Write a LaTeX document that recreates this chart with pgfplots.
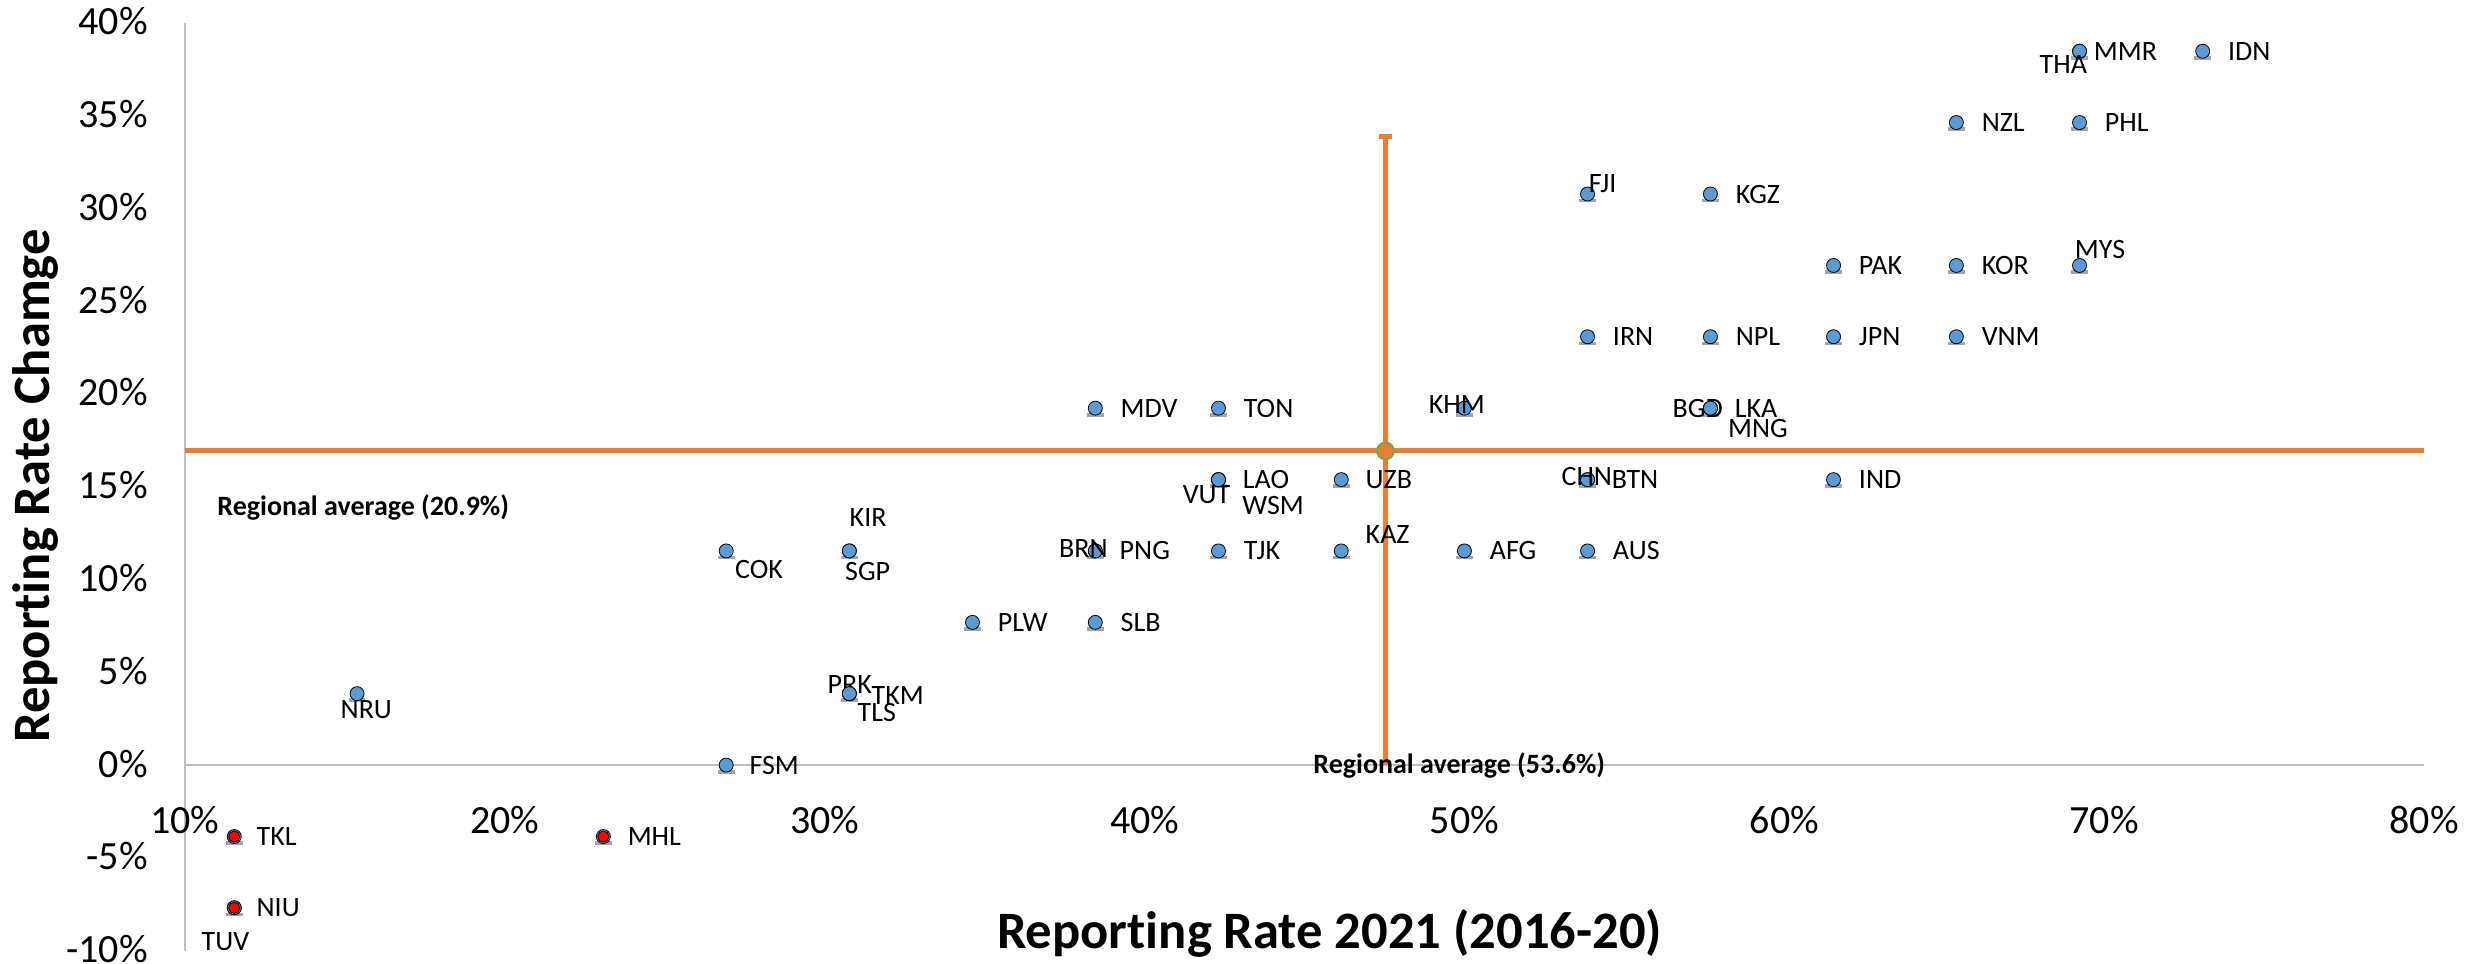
\documentclass[border=0pt]{standalone}
\usepackage{fontspec}
\setmainfont{Carlito}[Ligatures=NoCommon]
\usepackage{pgfplots}
\usepackage{pgfplotstable}
\pgfplotsset{compat=1.18}
\definecolor{xlblue}{HTML}{5B9BD5}
\definecolor{xlorange}{HTML}{ED7D31}
\definecolor{xlgreen}{HTML}{70AD47}
\definecolor{xlgray}{HTML}{A5A5A5}
\definecolor{axgray}{HTML}{BFBFBF}
\definecolor{xlred}{HTML}{FF0000}

\pgfplotstableread{
x y dx dy label
69.23 38.46 7 0 MMR
69.23 38.46 -20.1 -6.7 THA
73.08 38.46 12.5 0 IDN
65.38 34.62 12.5 0 NZL
69.23 34.62 12.5 0 PHL
53.85 30.77 0.5 5.2 FJI
57.69 30.77 12.5 0 KGZ
61.54 26.92 12.5 0 PAK
65.38 26.92 12.5 0 KOR
69.23 26.92 -2.5 8.2 MYS
53.85 23.08 12.5 0 IRN
57.69 23.08 12.5 0 NPL
61.54 23.08 12.5 0 JPN
65.38 23.08 12.5 0 VNM
38.46 19.23 12.5 0 MDV
42.31 19.23 12.5 0 TON
50.00 19.23 -18 2 KHM
57.69 19.23 -19.1 0 BGD
57.69 19.23 12 0 LKA
57.69 19.23 8.7 -10 MNG
42.31 15.38 12 0 LAO
42.31 15.38 -18 -7.2 VUT
42.31 15.38 11.7 -12.7 WSM
46.15 15.38 12 0 UZB
53.85 15.38 12 0 BTN
53.85 15.38 -13.2 1.8 CHN
61.54 15.38 12.5 0 IND
26.92 11.54 4.3 -9.2 COK
30.77 11.54 0 16.8 KIR
30.77 11.54 -2.3 -10.4 SGP
38.46 11.54 12 0 PNG
38.46 11.54 -18.3 1.3 BRN
42.31 11.54 12.5 0 TJK
46.15 11.54 12 8 KAZ
50.00 11.54 12.5 0 AFG
53.85 11.54 12.5 0 AUS
34.62 7.69 12.5 0 PLW
38.46 7.69 12.5 0 SLB
15.38 3.85 -8.4 -7.8 NRU
30.77 3.85 -11 4.5 PRK
30.77 3.85 11 -1 TKM
30.77 3.85 4 -9.5 TLS
26.92 0 11.5 0 FSM
11.54 -3.85 11 0 TKL
23.08 -3.85 12 0 MHL
11.54 -7.69 11 0 NIU
11.54 -7.69 -16.5 -17 TUV
}\pts

\begin{document}
\begin{tikzpicture}
\path[use as bounding box] (-92.5pt,-6.2pt) rectangle (1143pt,475.35pt);
\begin{axis}[
  at={(0,0)}, anchor=south west,
  scale only axis, width=1119.5pt, height=464pt,
  xmin=10, xmax=80, ymin=-10, ymax=40,
  axis x line=middle, axis y line=left,
  axis line style={draw=axgray, line width=1pt, -},
  hide obscured x ticks=false, hide obscured y ticks=false,
  major tick length=0pt,
  xtick={10,20,30,40,50,60,70,80},
  xticklabels={10\%,20\%,30\%,40\%,50\%,60\%,70\%,80\%},
  ytick={-10,-5,0,5,10,15,20,25,30,35,40},
  yticklabels={-10\%,-5\%,0\%,5\%,10\%,15\%,20\%,25\%,30\%,35\%,40\%},
  tick label style={font=\fontsize{20}{24}\selectfont, inner sep=0pt, text height=12.6pt, text depth=0pt},
  xticklabel style={anchor=center, yshift=-28pt},
  yticklabel style={anchor=east, xshift=-18.5pt, yshift=0.3pt},
]
% regional averages (orange cross)
\addplot[xlorange, line width=2.5pt, mark=none] coordinates {(10,16.93) (80,16.93)};
\addplot[xlorange, line width=2.5pt, mark=none] coordinates {(47.53,0) (47.53,33.86)};
\addplot[xlorange, line width=2.5pt, mark=none] coordinates {(47.34,33.86) (47.72,33.86)};
% gray base of markers
\addplot[only marks, mark=-, mark size=4.2pt, mark options={draw=xlgray, line width=1.8pt, yshift=-3.3pt}]
  table[x=x, y=y]{\pts};
% blue markers with labels
\addplot[only marks, mark=*, mark size=3.5pt, mark options={fill=xlblue, draw=none},
  point meta=explicit symbolic,
  nodes near coords,
  visualization depends on={\thisrow{dx}\as\ldx},
  visualization depends on={\thisrow{dy}\as\ldy},
  every node near coord/.append style={font=\fontsize{14}{17}\selectfont, text=black, inner sep=0pt,
     text height=9pt, text depth=0pt, anchor=west, xshift=\ldx, yshift=\ldy}]
  table[x=x, y=y, meta=label]{\pts};
% red markers
\addplot[only marks, mark=*, mark size=2.8pt, mark options={fill=xlred, draw=none}]
  coordinates {(11.54,-3.85) (23.08,-3.85) (11.54,-7.69)};
% average point
\addplot[only marks, mark=*, mark size=4.2pt, mark options={fill=xlorange, draw=xlgreen, line width=1pt}]
  coordinates {(47.53,16.93)};
\end{axis}
\node[rotate=90, anchor=base, inner sep=0pt, font=\fontsize{26.3}{30}\selectfont\bfseries] at (-67.5pt,232.3pt) {Reporting Rate Chamge};
\node[anchor=base, inner sep=0pt, font=\fontsize{26.3}{30}\selectfont\bfseries] at (572.3pt,1.2pt) {Reporting Rate 2021 (2016-20)};
\node[anchor=base west, inner sep=0pt, font=\fontsize{14}{17}\selectfont\bfseries] at (16pt,217.8pt) {Regional average (20.9\%)};
\node[anchor=base west, inner sep=0pt, font=\fontsize{14}{17}\selectfont\bfseries] at (564pt,88.5pt) {Regional average (53.6\%)};
\end{tikzpicture}
\end{document}
